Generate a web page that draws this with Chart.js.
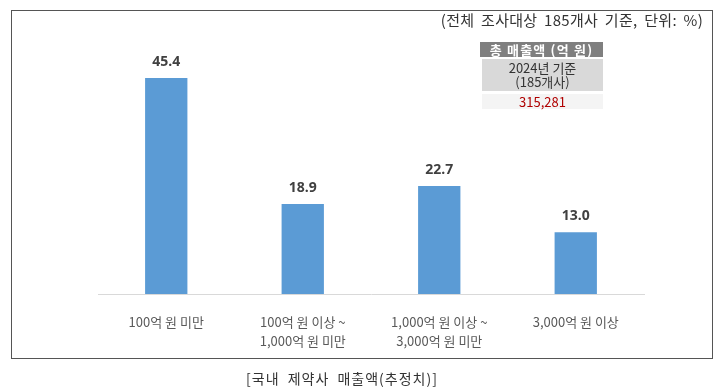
<!DOCTYPE html>
<html>
<head>
<meta charset="utf-8">
<script src="https://cdn.jsdelivr.net/npm/chart.js@4.4.1/dist/chart.umd.min.js"></script>
<style>
  html, body { margin: 0; padding: 0; background: #fff; }
  #wrap { position: relative; width: 720px; height: 392px; overflow: hidden; font-family: "Noto Sans CJK KR", "Noto Sans", sans-serif; }
  #frame { position: absolute; left: 11px; top: 10px; width: 700px; height: 347px; border: 1px solid #555; }
  #myChart { position: absolute; left: 0; top: 0; }
  #unit { position: absolute; right: 17px; top: 9px; font-size: 15px; color: #333; letter-spacing: 0.3px; word-spacing: 3px; }
  #caption { position: absolute; left: 0; width: 684px; top: 368px; text-align: center; font-size: 14px; color: #333; letter-spacing: 1px; word-spacing: 4px; }
  #tbl { position: absolute; left: 480px; top: 42px; width: 123px; text-align: center; }
  #tbl .hd { background: #7f7f7f; color: #fff; font-weight: bold; font-size: 13px; height: 15px; line-height: 15px; letter-spacing: 1.2px; }
  #tbl .yr { background: #d9d9d9; color: #333; font-size: 13px; line-height: 14px; margin-top: 2px; padding: 2px 0; margin-left: 2px; }
  #tbl .val { background: #f4f4f4; color: #b00000; font-size: 13px; height: 15px; line-height: 15px; margin-top: 3px; margin-left: 2px; }
</style>
</head>
<body>
<div id="wrap">
  <div id="frame"></div>
  <canvas id="myChart" width="720" height="392"></canvas>
  <div id="unit">(전체 조사대상 185개사 기준, 단위: %)</div>
  <div id="tbl">
    <div class="hd">총 매출액 (억 원)</div>
    <div class="yr">2024년 기준<br>(185개사)</div>
    <div class="val">315,281</div>
  </div>
  <div id="caption">[국내 제약사 매출액(추정치)]</div>
</div>
<script>
// 매출액 구간별 비중 (%)
const categorias = [
	"100억 원 미만",
	["100억 원 이상 ~", "1,000억 원 미만"],
	["1,000억 원 이상 ~", "3,000억 원 미만"],
	"3,000억 원 이상"
];
const valores = [45.4, 18.9, 22.7, 13.0];

// valor em cima de cada barra
const rotuloValor = {
	id: "rotuloValor",
	afterDatasetsDraw(chart) {
		const ctx = chart.ctx;
		const meta = chart.getDatasetMeta(0);
		ctx.save();
		ctx.font = "bold 14px 'Open Sans', sans-serif";
		ctx.fillStyle = "#404040";
		ctx.textAlign = "center";
		ctx.textBaseline = "middle";
		meta.data.forEach((bar, i) => {
			ctx.fillText(valores[i].toFixed(1), bar.x, bar.y - 16);
		});
		ctx.restore();
	}
};

const ctx = document.getElementById("myChart");

let grafico = new Chart(ctx, {
	type: "bar",
	data: {
		labels: categorias,
		datasets: [
			{
				data: valores,
				backgroundColor: "#5b9bd5",
				borderWidth: 0,
				categoryPercentage: 1,
				barPercentage: 0.31,
			},
		],
	},
	options: {
		responsive: false,
		animation: false,
		layout: {
			padding: { left: 98, right: 76, top: 56, bottom: 22 },
		},
		plugins: {
			legend: { display: false },
			tooltip: { enabled: false },
		},
		scales: {
			x: {
				grid: { display: false, drawTicks: false },
				border: { display: true, color: "#d9d9d9", width: 1 },
				ticks: {
					color: "#595959",
					padding: 19,
					font: { family: "'Noto Sans CJK KR', sans-serif", size: 13, lineHeight: 1.46 },
				},
			},
			y: {
				display: false,
				min: 0,
				max: 50,
			},
		},
	},
	plugins: [rotuloValor],
});
</script>
</body>
</html>
